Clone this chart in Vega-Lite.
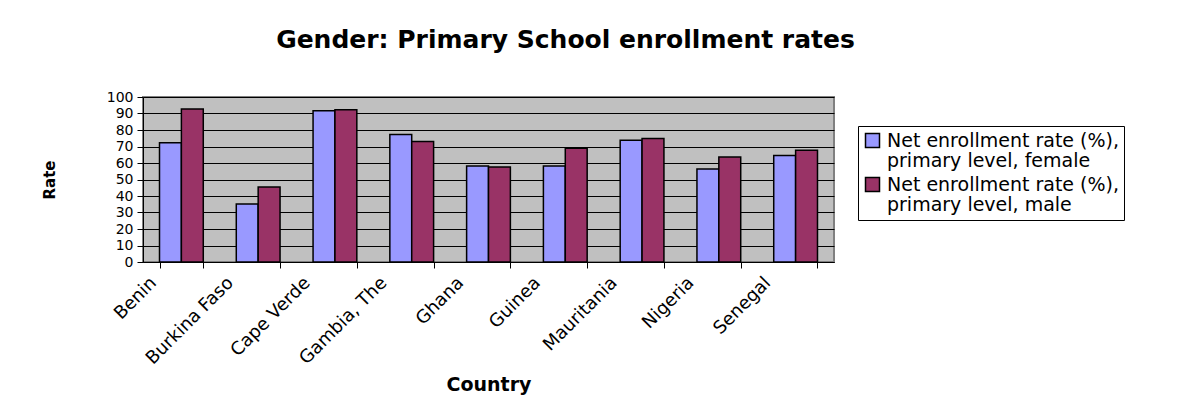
{
  "$schema": "https://vega.github.io/schema/vega-lite/v6.json",
  "width": 691,
  "height": 165,
  "autosize": "none",
  "padding": {"left": 143, "top": 97, "right": 348, "bottom": 152},
  "background": "white",
  "title": {
    "text": "Gender: Primary School enrollment rates",
    "font": "DejaVu Sans",
    "fontSize": 25,
    "fontWeight": "bold",
    "color": "black",
    "anchor": "middle",
    "dx": 77,
    "offset": 37
  },
  "data": {
    "values": [
      {"country": "Benin", "series": "Net enrollment rate (%), primary level, female", "rate": 72.2},
      {"country": "Benin", "series": "Net enrollment rate (%), primary level, male", "rate": 92.7},
      {"country": "Burkina Faso", "series": "Net enrollment rate (%), primary level, female", "rate": 35.1},
      {"country": "Burkina Faso", "series": "Net enrollment rate (%), primary level, male", "rate": 45.4},
      {"country": "Cape Verde", "series": "Net enrollment rate (%), primary level, female", "rate": 91.7},
      {"country": "Cape Verde", "series": "Net enrollment rate (%), primary level, male", "rate": 92.3},
      {"country": "Gambia, The", "series": "Net enrollment rate (%), primary level, female", "rate": 77.3},
      {"country": "Gambia, The", "series": "Net enrollment rate (%), primary level, male", "rate": 73.0},
      {"country": "Ghana", "series": "Net enrollment rate (%), primary level, female", "rate": 58.2},
      {"country": "Ghana", "series": "Net enrollment rate (%), primary level, male", "rate": 57.6},
      {"country": "Guinea", "series": "Net enrollment rate (%), primary level, female", "rate": 58.2},
      {"country": "Guinea", "series": "Net enrollment rate (%), primary level, male", "rate": 69.0},
      {"country": "Mauritania", "series": "Net enrollment rate (%), primary level, female", "rate": 73.8},
      {"country": "Mauritania", "series": "Net enrollment rate (%), primary level, male", "rate": 74.8},
      {"country": "Nigeria", "series": "Net enrollment rate (%), primary level, female", "rate": 56.4},
      {"country": "Nigeria", "series": "Net enrollment rate (%), primary level, male", "rate": 63.7},
      {"country": "Senegal", "series": "Net enrollment rate (%), primary level, female", "rate": 64.5},
      {"country": "Senegal", "series": "Net enrollment rate (%), primary level, male", "rate": 67.7}
    ]
  },
  "mark": {"type": "bar", "stroke": "black", "strokeWidth": 1.5},
  "encoding": {
    "x": {
      "field": "country",
      "type": "nominal",
      "sort": null,
      "scale": {"paddingInner": 0.43, "paddingOuter": 0.215},
      "axis": {
        "title": "Country",
        "titleFont": "DejaVu Sans",
        "titleFontSize": 19,
        "titleFontWeight": "bold",
        "titleColor": "black",
        "titlePadding": 8,
        "labelFont": "DejaVu Sans",
        "labelFontSize": 18,
        "labelColor": "black",
        "labelAngle": -45,
        "labelAlign": "right",
        "labelBaseline": "middle",
        "labelOffset": -28,
        "labelPadding": 12,
        "labelOverlap": false,
        "tickBand": "extent",
        "tickColor": "black",
        "tickSize": 6,
        "domainColor": "black",
        "domainWidth": 1,
        "grid": false
      }
    },
    "xOffset": {"field": "series", "type": "nominal", "scale": {"paddingInner": 0}},
    "y": {
      "field": "rate",
      "type": "quantitative",
      "scale": {"domain": [0, 100], "nice": false},
      "axis": {
        "title": "Rate",
        "titleFont": "DejaVu Sans",
        "titleFontSize": 15,
        "titleFontWeight": "bold",
        "titleColor": "black",
        "titlePadding": 49,
        "values": [0, 10, 20, 30, 40, 50, 60, 70, 80, 90, 100],
        "labelOverlap": false,
        "labelFlush": false,
        "labelFont": "DejaVu Sans",
        "labelFontSize": 14,
        "labelLineHeight": 14,
        "labelColor": "black",
        "labelPadding": 4,
        "tickColor": "black",
        "tickSize": 6,
        "domainColor": "black",
        "grid": true,
        "gridColor": "black",
        "gridWidth": 1
      }
    },
    "color": {
      "field": "series",
      "type": "nominal",
      "scale": {"range": ["#9999FF", "#993366"]},
      "legend": {
        "title": null,
        "orient": "none",
        "legendX": 715,
        "legendY": 29,
        "padding": 5,
        "strokeColor": "black",
        "fillColor": "white",
        "symbolType": "square",
        "symbolSize": 196,
        "symbolStrokeColor": "black",
        "symbolStrokeWidth": 1.5,
        "symbolOpacity": 1,
        "labelFont": "DejaVu Sans",
        "labelFontSize": 19,
        "labelColor": "black",
        "labelLimit": 400,
        "labelBaseline": "middle",
        "labelOffset": 5,
        "rowPadding": 3,
        "labelExpr": "[slice(datum.label, 0, 24), slice(datum.label, 25)]"
      }
    }
  },
  "config": {
    "view": {"fill": "#C0C0C0", "stroke": "#808080", "strokeWidth": 2},
    "style": {"guide-label": {"lineHeight": 20}}
  }
}
